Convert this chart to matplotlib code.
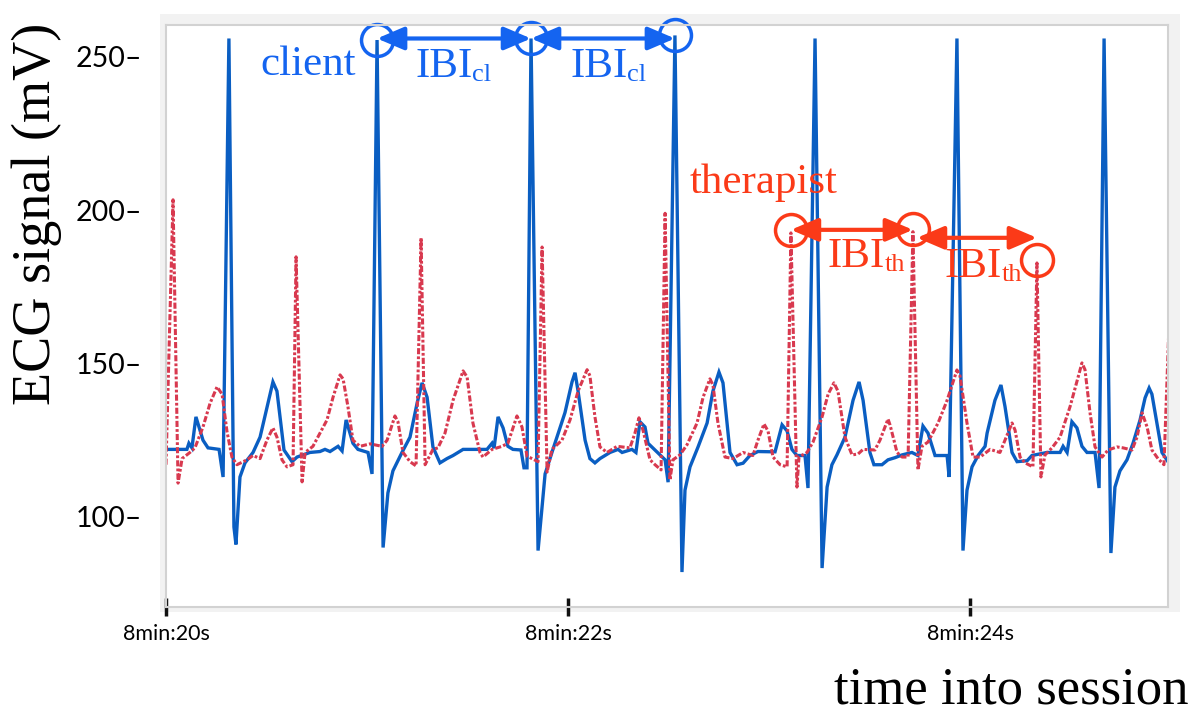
import numpy as np
import matplotlib
matplotlib.use('Agg')
import matplotlib.pyplot as plt
from matplotlib.patches import Rectangle

# seconds after 8 min, signal in mV
client_t = [20.000, 20.104, 20.114, 20.129, 20.149, 20.184, 20.209, 20.264, 20.284, 20.313,
            20.338, 20.348, 20.368, 20.393, 20.433, 20.468, 20.507, 20.532, 20.552, 20.587,
            20.627, 20.652, 20.716, 20.766, 20.791, 20.816, 20.856, 20.876, 20.896, 20.930,
            20.955, 21.005, 21.025, 21.050, 21.080, 21.104, 21.129, 21.174, 21.214, 21.249,
            21.274, 21.299, 21.328, 21.363, 21.398, 21.428, 21.453, 21.478, 21.597, 21.622,
            21.632, 21.652, 21.677, 21.701, 21.726, 21.766, 21.781, 21.796, 21.816, 21.851,
            21.886, 21.925, 21.985, 22.020, 22.035, 22.050, 22.085, 22.109, 22.134, 22.159,
            22.184, 22.209, 22.249, 22.269, 22.318, 22.338, 22.358, 22.383, 22.398, 22.458,
            22.483, 22.498, 22.532, 22.567, 22.582, 22.607, 22.647, 22.692, 22.721, 22.751,
            22.771, 22.806, 22.841, 22.871, 22.905, 22.945, 23.030, 23.065, 23.090, 23.114,
            23.139, 23.179, 23.194, 23.229, 23.264, 23.289, 23.313, 23.338, 23.378, 23.418,
            23.448, 23.468, 23.502, 23.522, 23.562, 23.592, 23.627, 23.662, 23.711, 23.741,
            23.766, 23.791, 23.826, 23.886, 23.896, 23.935, 23.965, 23.985, 24.010, 24.040,
            24.075, 24.085, 24.124, 24.154, 24.174, 24.209, 24.234, 24.284, 24.308, 24.383,
            24.448, 24.463, 24.483, 24.507, 24.532, 24.557, 24.582, 24.622, 24.642, 24.667,
            24.701, 24.721, 24.746, 24.781, 24.811, 24.846, 24.871, 24.891, 24.905, 24.930,
            24.955, 24.985]
client_mv = [122, 122, 124, 122.5, 132.6, 125, 122.5, 122, 113, 256,
             96.7, 91, 113, 117.6, 121, 126, 137, 144, 141, 121.8,
             118, 119.5, 121, 121.3, 122, 121.3, 123, 121.5, 131.6, 124,
             122, 121, 114, 255.5, 90, 107.8, 115, 121, 126, 137,
             143.7, 139, 122.8, 117.6, 119, 120, 121, 122, 122, 124,
             122.4, 132.6, 129, 123, 122, 121.8, 116, 116, 256, 89,
             114, 122, 134, 144, 147, 141, 125, 119, 117.6, 119,
             120, 121, 122, 121, 122, 121, 131, 129.3, 124, 120.2,
             118.6, 111.3, 257, 82, 108.7, 116.3, 122.8, 130.6, 141, 147.2,
             143.7, 121, 117, 117.5, 120, 121.3, 121.2, 130, 128, 122,
             120, 120, 109.4, 256, 83.3, 109.7, 117, 120.2, 126, 138,
             144, 138, 121, 117, 117, 118.6, 119.3, 120.2, 121, 120,
             129.6, 127.3, 120, 120, 113, 256, 89, 108.7, 116.3, 120,
             123, 127.3, 138, 143, 136, 121, 118, 118.3, 120, 121,
             121, 123, 121, 131, 129, 123, 121, 121, 109.4, 256,
             88.2, 109.7, 115, 118.6, 124, 131.6, 138.8, 142, 140, 130.6,
             121, 118]

therapist_t = [20.000, 20.035, 20.060, 20.080, 20.119, 20.144, 20.184, 20.219, 20.254, 20.279,
               20.303, 20.328, 20.353, 20.403, 20.433, 20.468, 20.502, 20.532, 20.552, 20.577,
               20.602, 20.632, 20.647, 20.677, 20.692, 20.731, 20.766, 20.801, 20.831, 20.866,
               20.881, 20.905, 20.930, 20.965, 21.015, 21.075, 21.100, 21.139, 21.154, 21.179,
               21.214, 21.244, 21.269, 21.289, 21.328, 21.353, 21.388, 21.428, 21.478, 21.498,
               21.527, 21.562, 21.577, 21.622, 21.672, 21.701, 21.746, 21.771, 21.796, 21.851,
               21.871, 21.896, 21.920, 21.970, 22.010, 22.050, 22.095, 22.109, 22.134, 22.159,
               22.194, 22.244, 22.308, 22.333, 22.353, 22.373, 22.408, 22.433, 22.463, 22.483,
               22.507, 22.522, 22.557, 22.592, 22.642, 22.672, 22.706, 22.721, 22.746, 22.781,
               22.821, 22.871, 22.920, 22.945, 22.975, 22.995, 23.020, 23.055, 23.090, 23.109,
               23.139, 23.149, 23.189, 23.219, 23.264, 23.294, 23.323, 23.343, 23.378, 23.413,
               23.443, 23.468, 23.527, 23.552, 23.592, 23.602, 23.637, 23.662, 23.692, 23.716,
               23.741, 23.761, 23.791, 23.841, 23.886, 23.935, 23.950, 23.985, 24.015, 24.050,
               24.100, 24.149, 24.174, 24.209, 24.224, 24.249, 24.274, 24.313, 24.333, 24.353,
               24.373, 24.408, 24.448, 24.498, 24.557, 24.572, 24.597, 24.622, 24.657, 24.687,
               24.731, 24.761, 24.806, 24.831, 24.856, 24.881, 24.905, 24.935, 24.965, 25.005]
therapist_mv = [117, 203.4, 111, 119, 121, 122.5, 129.3, 137, 142.4, 140,
                128, 119.5, 117, 118.6, 120, 119, 125, 129, 126, 118.6,
                116.3, 117, 184.8, 111.4, 121, 123, 127.3, 131.6, 139, 146.3,
                145, 136, 125, 123, 123.8, 123, 125, 132.9, 131, 121,
                118, 116.6, 191, 117, 122, 122.5, 127.3, 138, 147.6, 145.6,
                130.6, 121, 119.5, 122, 123, 124, 132.9, 129.3, 119.8, 118,
                188, 114.6, 122, 125, 131.6, 141, 148, 146, 132.6, 122.8,
                121, 123, 122.5, 127.3, 132.3, 128.3, 118.6, 117, 115.3, 199,
                112, 118.6, 120.2, 123.5, 130.6, 139, 145, 143, 130.6, 119.5,
                119, 121, 120, 125, 130.3, 128, 119.5, 117, 116.3, 192.6,
                109.7, 119.5, 121, 124.4, 132.6, 140, 143.7, 141, 126, 120.2,
                120.5, 122, 121.8, 125, 131.9, 130, 121, 119.5, 119.5, 193,
                115.3, 123, 124.4, 130.6, 138, 147.9, 146, 130.6, 119.5, 119.5,
                122, 121, 125, 130.6, 128.3, 119.5, 117.6, 116.3, 182.8, 113,
                120.2, 122.5, 126, 136, 150.2, 148, 134, 122.8, 119.5, 121.8,
                122.8, 122.5, 121.8, 126, 133.9, 129.3, 121.8, 119, 117, 190]

x_ticks = [20, 22, 24]
x_tick_labels = ['8min:20s', '8min:22s', '8min:24s']
y_ticks = [100, 150, 200, 250]

client_t = np.array(client_t)
client_mv = np.array(client_mv)
therapist_t = np.array(therapist_t)
therapist_mv = np.array(therapist_mv)

line_blue = '#0a5ec2'
line_red = '#d8394f'
note_blue = '#1464f0'
note_red = '#fb3a18'
serif = 'Liberation Serif'

fig = plt.figure(figsize=(12.01, 7.13), dpi=100)
shadow = Rectangle((160/1201, 1-612/713), 1020/1201, 598/713,
                   transform=fig.transFigure, facecolor='#f2f2f2',
                   edgecolor='none', zorder=-10)
fig.patches.append(shadow)
ax = fig.add_axes([166/1201, 1-607/713, 1002/1201, 582/713])
ax.set_facecolor('white')

ax.plot(client_t, client_mv, color=line_blue, lw=2.4, solid_joinstyle='miter')
ax.plot(therapist_t, therapist_mv, color=line_red, lw=2.2, dashes=(2.0, 0.7, 0.9, 0.7))

ax.set_xlim(20, 24.985)
ax.set_ylim(70.6, 260.4)

for s in ax.spines.values():
    s.set_color('#d2d2d2')
    s.set_linewidth(1.5)

ax.set_xticks(x_ticks)
ax.set_xticklabels(x_tick_labels, family='Lato', fontsize=15.5)
ax.tick_params(axis='x', direction='inout', length=13, width=2.5, color='#111111', pad=6)
ax.set_yticks(y_ticks)
ax.set_yticklabels([f'{v}\u2013' for v in y_ticks], family='Lato', fontsize=20.5)
ax.tick_params(axis='y', length=0, pad=17)

# R peaks used for the inter-beat intervals
cl_peaks = np.where(client_mv > 200)[0][1:4]
th_peaks = np.where(therapist_mv > 170)[0][5:8]
cl_x, cl_y = client_t[cl_peaks], client_mv[cl_peaks]
th_x, th_y = therapist_t[th_peaks], therapist_mv[th_peaks] + 1

ax.plot(cl_x, cl_y, 'o', mfc='none', mec=note_blue, ms=23, mew=2.5, clip_on=False)
ax.plot(th_x, th_y, 'o', mfc='none', mec=note_red, ms=23, mew=2.5, clip_on=False)

arrow_kw = dict(arrowstyle='<|-|>,head_length=0.75,head_width=0.32', lw=3,
                shrinkA=0, shrinkB=0, mutation_scale=22)
for i in range(2):
    ax.annotate('', xy=(cl_x[i+1], 256), xytext=(cl_x[i], 256),
                arrowprops=dict(color=note_blue, **arrow_kw), annotation_clip=False)
ax.annotate('', xy=(th_x[1], th_y[0]), xytext=(th_x[0], th_y[0]),
            arrowprops=dict(color=note_red, **arrow_kw))
ax.annotate('', xy=(th_x[2], th_y[1] - 3), xytext=(th_x[1] + 0.02, th_y[1] - 3),
            arrowprops=dict(color=note_red, **arrow_kw))

ax.text(20.468, 244.1, 'client', family=serif, fontsize=31, color=note_blue, va='baseline')
ax.text(22.607, 205.6, 'therapist', family=serif, fontsize=31, color=note_red, va='baseline')

ibi_labels = [(21.239, 243.5, 'cl', note_blue), (22.010, 243.5, 'cl', note_blue),
              (23.289, 181.5, 'th', note_red), (23.871, 178.2, 'th', note_red)]
for x, y, sub, c in ibi_labels:
    t = ax.text(x, y, 'IBI', family=serif, fontsize=31, color=c, va='baseline')
    ax.annotate(sub, xy=(1, 0), xycoords=t, family=serif, fontsize=19, color=c,
                va='bottom', ha='left')

fig.text(37/1201, 1-214/713, 'ECG signal (mV)', family=serif, fontsize=39,
         rotation=90, ha='center', va='center')
fig.text(1188/1201, 1-703/713, 'time into session', family=serif, fontsize=38,
         ha='right', va='baseline')

fig.savefig('out.png', dpi=100)
